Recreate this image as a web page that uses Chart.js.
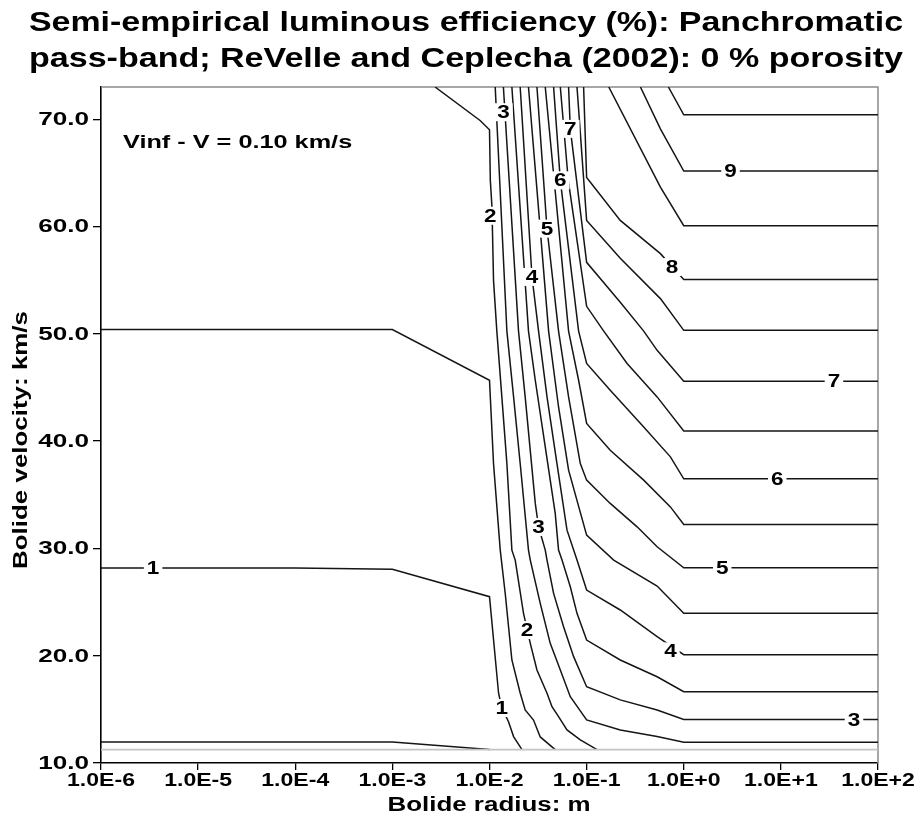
<!DOCTYPE html>
<html>
<head>
<meta charset="utf-8">
<script src="https://cdn.jsdelivr.net/npm/chart.js@4.4.0/dist/chart.umd.min.js"></script>
<style>
  body { margin: 0; background: #fff; }
  #wrap { width: 918px; height: 823px; }
</style>
</head>
<body>
<div id="wrap"><canvas id="myChart" width="918" height="823"></canvas></div>
<script>
// ------------------------- data ------------------------- //
const xTicks = [1e-6, 1e-5, 1e-4, 1e-3, 1e-2, 1e-1, 1e0, 1e1, 1e2];
const xTickLabels = ['1.0E-6', '1.0E-5', '1.0E-4', '1.0E-3', '1.0E-2', '1.0E-1', '1.0E+0', '1.0E+1', '1.0E+2'];
const yTicks = [10, 20, 30, 40, 50, 60, 70];
const yTickLabels = ['10.0', '20.0', '30.0', '40.0', '50.0', '60.0', '70.0'];

// lower velocity limit (grey line)
const vMin = 11.25;

// contour lines: radius (m) and velocity (km/s) of each vertex, level 0.5 ... 9.5
const r_05 = [1e-6, 1e-3, 1e-2];
const v_05 = [11.95, 11.95, 11.25];
const r_10 = [1e-6, 1e-4, 1e-3, 1e-2, 0.0124, 0.0134, 0.0157, 0.0177, 0.0216];
const v_10 = [28.17, 28.17, 28.05, 25.5, 16.5, 15.12, 13.85, 12.46, 11.25];
const r_15 = [1e-6, 1e-3, 1e-2, 0.0110, 0.0129, 0.0145, 0.0170, 0.0207, 0.0233, 0.0284, 0.0333, 0.0475];
const v_15 = [50.4, 50.4, 45.67, 37.91, 29.84, 25.84, 19.6, 16.53, 14.94, 14.0, 12.43, 11.25];
const r_20 = [2.75e-3, 8.0e-3, 0.01, 0.0102, 0.0106, 0.0110, 0.0119, 0.0134, 0.0151, 0.0170, 0.0184, 0.0224, 0.0263, 0.0308, 0.0391, 0.0440, 0.0514, 0.0628, 0.0861, 0.128];
const v_20 = [73, 69.88, 69.01, 64.29, 61.81, 54.98, 50.25, 44.12, 37.91, 29.84, 28.91, 23.95, 21.15, 18.67, 16.5, 15.25, 14.32, 13.08, 12.15, 11.25];
const r_25 = [0.01145, 0.0151, 0.0177, 0.0207, 0.0252, 0.0263, 0.0333, 0.0422, 0.0536, 0.0679, 0.1, 0.222, 0.532, 1, 100];
const v_25 = [73, 50.25, 44.12, 37.91, 29.84, 28.91, 24.88, 21.15, 18.67, 16.18, 14.01, 13.08, 12.46, 11.94, 11.94];
const r_30 = [0.0139, 0.0199, 0.0233, 0.0296, 0.0320, 0.0375, 0.0391, 0.0457, 0.0579, 0.0735, 0.1, 0.222, 0.532, 1, 100];
const v_30 = [73, 50.25, 44.12, 34.19, 32.01, 29.84, 28.91, 25.81, 22.7, 19.91, 17.11, 15.88, 14.94, 14.05, 14.05];
const r_35 = [0.0170, 0.0252, 0.0296, 0.0375, 0.0475, 0.0514, 0.0558, 0.0679, 0.0796, 0.1, 0.222, 0.532, 1, 100];
const v_35 = [73, 50.25, 45.67, 39.46, 33.26, 29.84, 28.91, 26.42, 23.95, 21.46, 19.6, 18.04, 16.65, 16.65];
const r_40 = [0.0207, 0.0274, 0.0320, 0.0391, 0.0495, 0.0628, 0.0796, 0.1, 0.222, 0.532, 1, 100];
const v_40 = [73, 55.29, 50.25, 44.12, 37.91, 31.7, 28.91, 26.12, 24.26, 21.77, 20.09, 20.09];
const r_45 = [0.0252, 0.0406, 0.0514, 0.0652, 0.1, 0.190, 0.532, 1, 100];
const v_45 = [73, 50.25, 43.18, 37.29, 31.24, 28.91, 26.49, 23.95, 23.95];
const r_50 = [0.0308, 0.0391, 0.0514, 0.0652, 0.0861, 0.1, 0.175, 0.331, 0.532, 1, 100];
const v_50 = [73, 59.79, 50.25, 44.12, 37.91, 36.36, 34.19, 32.01, 30.15, 28.19, 28.19];
const r_55 = [0.0375, 0.0652, 0.0827, 0.1, 0.175, 0.387, 0.729, 1, 100];
const v_55 = [73, 50.25, 45.67, 41.64, 39.15, 36.36, 33.87, 32.23, 32.23];
const r_60 = [0.0457, 0.0536, 0.0827, 0.1, 0.175, 0.387, 0.729, 1, 100];
const v_60 = [73, 64.29, 50.25, 47.23, 44.74, 41.32, 38.53, 36.48, 36.48];
const r_65 = [0.0536, 0.0647, 0.1, 0.150, 0.261, 0.532, 1, 100];
const v_65 = [73, 64.29, 52.56, 50.25, 47.23, 44.12, 40.95, 40.95];
const r_70 = [0.0652, 0.0679, 0.1, 0.222, 0.387, 0.532, 1, 100];
const v_70 = [73, 69.1, 56.66, 52.93, 50.25, 48.46, 45.58, 45.58];
const r_75 = [0.0796, 0.1, 0.222, 0.575, 1, 100];
const v_75 = [73, 60.57, 57.03, 53.28, 50.32, 50.32];
const r_80 = [0.0931, 0.1, 0.222, 0.575, 1, 100];
const v_80 = [73, 64.57, 60.57, 57.47, 55.07, 55.07];
const r_85 = [0.169, 0.575, 1, 100];
const v_85 = [73, 63.67, 60.07, 60.07];
const r_90 = [0.358, 0.575, 1, 100];
const v_90 = [73, 69.1, 65.16, 65.16];
const r_95 = [0.695, 1, 100];
const v_95 = [73, 70.41, 70.41];

// contour labels
const labelText = ['1', '1', '2', '2', '3', '3', '3', '4', '4', '5', '5', '6', '6', '7', '7', '8', '9'];
const labelR = [3.44e-6, 0.0134, 0.0102, 0.0243, 0.0139, 0.032, 56.6, 0.0274, 0.729, 0.0391, 2.49, 0.0536, 9.18, 0.0679, 35.2, 0.759, 3.03];
const labelV = [28.17, 15.12, 61.0, 22.39, 70.65, 32.0, 14.05, 55.3, 20.4, 59.8, 28.19, 64.3, 36.48, 69.1, 45.58, 56.22, 65.16];

const titleLines = ['Semi-empirical luminous efficiency (%): Panchromatic',
                    'pass-band; ReVelle and Ceplecha (2002): 0 % porosity'];
const xTitle = 'Bolide radius: m';
const yTitle = 'Bolide velocity: km/s';
const note = 'Vinf - V = 0.10 km/s';

// ------------------------- build ------------------------- //
const contours = [
  [r_05, v_05], [r_10, v_10], [r_15, v_15], [r_20, v_20], [r_25, v_25],
  [r_30, v_30], [r_35, v_35], [r_40, v_40], [r_45, v_45], [r_50, v_50],
  [r_55, v_55], [r_60, v_60], [r_65, v_65], [r_70, v_70], [r_75, v_75],
  [r_80, v_80], [r_85, v_85], [r_90, v_90], [r_95, v_95]
];

const FONT = '"Liberation Sans", Arial, sans-serif';

// bold text, stretched sideways like the original picture
function wideText(ctx, str, x, y, size, sx, align, baseline, rot) {
  ctx.save();
  ctx.font = 'bold ' + size + 'px ' + FONT;
  ctx.textBaseline = baseline;
  ctx.textAlign = align;
  ctx.translate(x, y);
  if (rot) ctx.rotate(rot);
  ctx.scale(sx, 1);
  ctx.fillStyle = '#000';
  ctx.fillText(str, 0, 0);
  ctx.restore();
}

const datasets = contours.map(([rs, vs]) => ({
  data: rs.map((r, i) => ({ x: r, y: vs[i] })),
  showLine: true,
  borderColor: '#151515',
  borderWidth: 1.5,
  pointRadius: 0,
  fill: false
}));
datasets.unshift({
  data: [{ x: 1e-6, y: vMin }, { x: 1e2, y: vMin }],
  showLine: true,
  borderColor: '#c4c4c4',
  borderWidth: 1.6,
  pointRadius: 0,
  fill: false
});

const decor = {
  id: 'decor',
  beforeDatasetsDraw(chart) {
    const { ctx, chartArea: a } = chart;
    ctx.save();
    ctx.strokeStyle = '#8a8a8a';
    ctx.lineWidth = 1.5;
    ctx.beginPath();
    ctx.moveTo(a.left, a.top);
    ctx.lineTo(a.right, a.top);
    ctx.lineTo(a.right, a.bottom);
    ctx.stroke();
    ctx.restore();
  },
  afterDatasetsDraw(chart) {
    const { ctx, scales: { x, y } } = chart;
    ctx.save();
    ctx.font = 'bold 18px ' + FONT;
    labelText.forEach((t, i) => {
      const px = x.getPixelForValue(labelR[i]);
      const py = y.getPixelForValue(labelV[i]);
      const w = ctx.measureText(t).width * 1.25;
      ctx.fillStyle = '#fff';
      ctx.fillRect(px - w / 2 - 3, py - 9, w + 6, 18);
      wideText(ctx, t, px, py + 1, 18, 1.25, 'center', 'middle');
    });
    ctx.restore();
  },
  afterDraw(chart) {
    const { ctx, scales: { x, y } } = chart;
    // title
    ctx.save();
    ctx.font = 'bold 28px ' + FONT;
    const w1 = ctx.measureText(titleLines[0]).width;
    const w2 = ctx.measureText(titleLines[1]).width;
    ctx.restore();
    wideText(ctx, titleLines[0], 466, 31, 28, 874 / w1, 'center', 'alphabetic');
    wideText(ctx, titleLines[1], 466, 67, 28, 874 / w2, 'center', 'alphabetic');
    // tick labels
    xTicks.forEach((v, i) => wideText(ctx, xTickLabels[i], x.getPixelForValue(v), 781, 18, 1.28, 'center', 'middle'));
    yTicks.forEach((v, i) => wideText(ctx, yTickLabels[i], 89, y.getPixelForValue(v) + 1, 18, 1.45, 'right', 'middle'));
    // axis titles
    wideText(ctx, xTitle, 489, 806, 19.5, 1.33, 'center', 'middle');
    wideText(ctx, yTitle, 22, 440, 19.5, 1.33, 'center', 'middle', -Math.PI / 2);
    // note
    wideText(ctx, note, 123, 143, 19, 1.33, 'left', 'middle');
  }
};

const ctx1 = document.getElementById('myChart');
const myChart = new Chart(ctx1, {
  type: 'scatter',
  data: { datasets },
  options: {
    responsive: false,
    animation: false,
    devicePixelRatio: 1,
    layout: { padding: { top: 87, right: 40, left: 0, bottom: 0 } },
    plugins: { legend: { display: false }, tooltip: { enabled: false } },
    scales: {
      x: {
        type: 'logarithmic',
        min: 1e-6,
        max: 1e2,
        afterBuildTicks: s => { s.ticks = xTicks.map(v => ({ value: v })); },
        afterFit: s => { s.height = 60; },
        ticks: { display: false },
        grid: { drawOnChartArea: false, drawTicks: true, tickLength: 7, color: '#000', lineWidth: 1.3 },
        border: { display: true, color: '#000', width: 1.6 }
      },
      y: {
        type: 'linear',
        min: 10,
        max: 73,
        afterBuildTicks: s => { s.ticks = yTicks.map(v => ({ value: v })); },
        afterFit: s => { s.width = 101; },
        ticks: { display: false },
        grid: { drawOnChartArea: false, drawTicks: true, tickLength: 8, color: '#000', lineWidth: 1.3 },
        border: { display: true, color: '#000', width: 1.6 }
      }
    }
  },
  plugins: [decor]
});
</script>
</body>
</html>
